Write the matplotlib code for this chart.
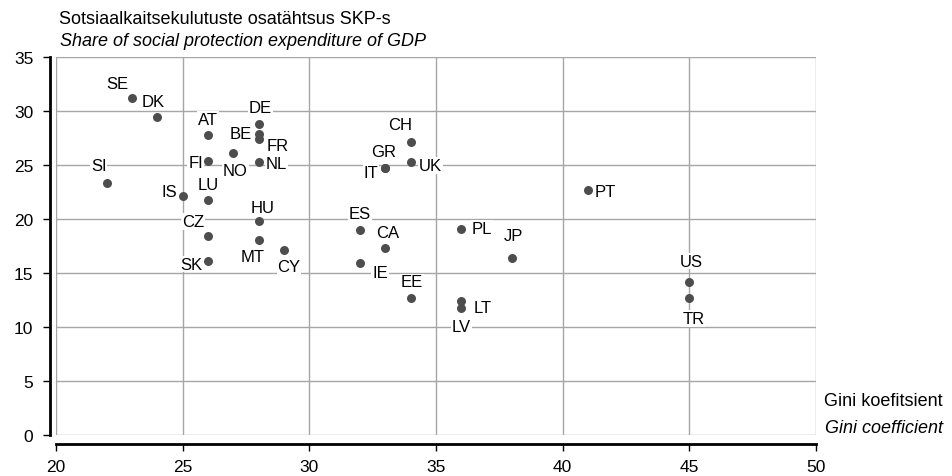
import matplotlib
matplotlib.use("Agg")
import matplotlib.pyplot as plt

plt.rcParams['font.family'] = ['Liberation Sans', 'DejaVu Sans']

countries = ["SE", "DK", "AT", "DE", "BE", "FR", "NO", "FI", "NL", "SI", "IS", "LU",
             "HU", "CZ", "MT", "CY", "SK", "CH", "GR", "IT", "UK", "ES", "CA", "IE",
             "EE", "PL", "JP", "LT", "LV", "PT", "US", "TR"]
gini = [23, 24, 26, 28, 28, 28, 27, 26, 28, 22, 25, 26,
        28, 26, 28, 29, 26, 34, 33, 33, 34, 32, 33, 32,
        34, 36, 38, 36, 36, 41, 45, 45]
social_exp = [31.2, 29.4, 27.8, 28.8, 27.9, 27.4, 26.1, 25.4, 25.3, 23.3, 22.1, 21.8,
              19.8, 18.4, 18.1, 17.1, 16.1, 27.1, 24.7, 24.7, 25.3, 19.0, 17.3, 15.9,
              12.7, 19.1, 16.4, 12.4, 11.8, 22.7, 14.2, 12.7]

x_ticks = [20, 25, 30, 35, 40, 45, 50]
y_ticks = [0, 5, 10, 15, 20, 25, 30, 35]

# label placement (offset in pixels, horizontal alignment)
label_layout = {
    "SE": (-15, 15, "center"), "DK": (-4, 16, "center"), "AT": (0, 15.5, "center"),
    "DE": (2, 16, "center"), "BE": (-7, 0, "right"), "FR": (19, -6, "center"),
    "NO": (2, -17, "center"), "FI": (-5, -2, "right"), "NL": (7, -2, "left"),
    "SI": (-8, 18, "center"), "IS": (-6, 5, "right"), "LU": (0, 15, "center"),
    "HU": (4, 14, "center"), "CZ": (-15, 15, "center"), "MT": (-6, -17, "center"),
    "CY": (5, -16, "center"), "SK": (-6, -3, "right"), "CH": (-11, 18, "center"),
    "GR": (-1.5, 16.5, "center"), "IT": (-7, -4, "right"), "UK": (8, -4, "left"),
    "ES": (0, 16.7, "center"), "CA": (2, 16, "center"), "IE": (12, -9, "left"),
    "EE": (1, 16, "center"), "PL": (10, 0, "left"), "JP": (1, 22, "center"),
    "LT": (12, -6, "left"), "LV": (0, -19, "center"), "PT": (7, -2, "left"),
    "US": (1.5, 20.6, "center"), "TR": (4, -20.7, "center"),
}

W, H = 952, 477
PX = 72 / 100  # points per pixel
fig = plt.figure(figsize=(W / 100, H / 100), dpi=100)
ax = fig.add_axes([56 / W, 1 - 436 / H, (816 - 56) / W, (436 - 58) / H])

ax.set_xlim(20, 50)
ax.set_ylim(0, 35)
ax.set_xticks(x_ticks)
ax.set_yticks(y_ticks)
ax.grid(True, color="#a6a6a6", linewidth=1.0, zorder=0)
ax.set_axisbelow(True)

for s in ["top", "right"]:
    ax.spines[s].set_visible(False)
ax.spines["left"].set_position(("outward", 6 * PX))
ax.spines["bottom"].set_position(("outward", 8.5 * PX))
ax.spines["left"].set_linewidth(2)
ax.spines["bottom"].set_linewidth(2)
ax.tick_params(axis="both", direction="out", length=5, width=1, labelsize=12.5, colors="black")
ax.tick_params(axis="y", pad=7)
ax.tick_params(axis="x", pad=6)

ax.scatter(gini, social_exp, s=42, color="#4d4d4d", zorder=3, linewidths=0)

for c, x, y in zip(countries, gini, social_exp):
    dx, dy, ha = label_layout[c]
    ax.annotate(c, (x, y), xytext=(dx, dy), textcoords="offset pixels",
                ha=ha, va="center", fontsize=12, zorder=4,
                bbox=dict(boxstyle="square,pad=0.05", fc="white", ec="none"))

fig.text(59 / W, 1 - 24 / H, "Sotsiaalkaitsekulutuste osatähtsus SKP-s", fontsize=13,
         ha="left", va="baseline")
fig.text(60 / W, 1 - 46.5 / H, "Share of social protection expenditure of GDP", fontsize=13,
         style="italic", ha="left", va="baseline")
fig.text(943 / W, 1 - 406.5 / H, "Gini koefitsient", fontsize=13, ha="right", va="baseline")
fig.text(943 / W, 1 - 433 / H, "Gini coefficient", fontsize=13, style="italic",
         ha="right", va="baseline")

fig.savefig("out.png", dpi=100)
